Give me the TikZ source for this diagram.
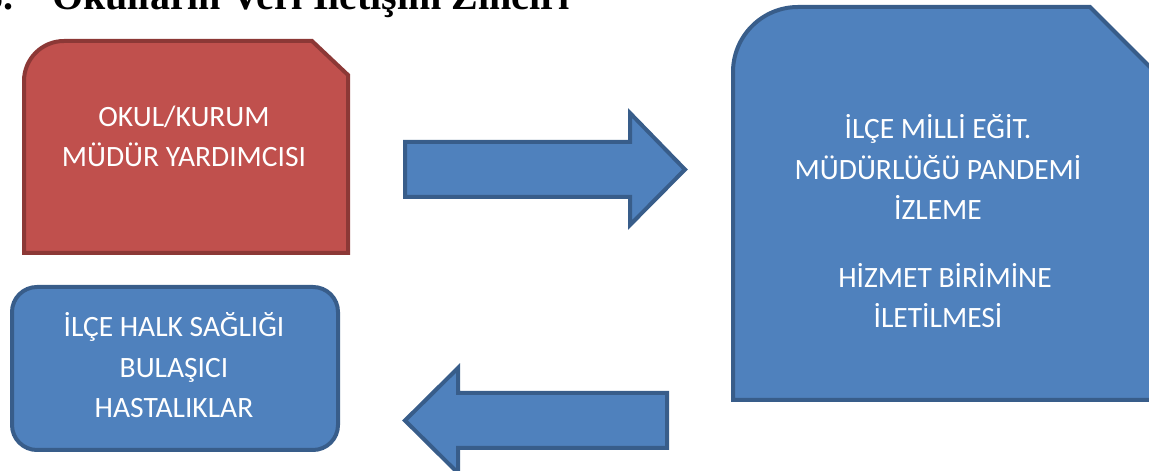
\documentclass[tikz,border=0pt]{standalone}
\usepackage{fontspec}
\setmainfont{Carlito}
\newfontfamily\titlefont{Liberation Serif}
\definecolor{bfill}{HTML}{4F81BD}
\definecolor{bline}{HTML}{385D8A}
\definecolor{rfill}{HTML}{C0504D}
\definecolor{rline}{HTML}{8C3836}
\begin{document}
\begin{tikzpicture}[x=1pt,y=1pt,
  bshape/.style={fill=bfill,draw=bline,line width=4pt,line join=miter},
  rshape/.style={fill=rfill,draw=rline,line width=4pt,line join=miter},
  boxtext/.style={text=white,align=center,inner sep=0pt,anchor=base,font=\fontsize{29.5}{40.5}\selectfont},
  titletext/.style={inner sep=0pt,font=\titlefont\bfseries\fontsize{40}{48}\selectfont}]
\useasboundingbox (0,0) rectangle (1149,471);
\clip (0,0) rectangle (1149,471);
% title (cut at the top edge)
\node[titletext,anchor=base east] (titlenum) at (14,461) {5.};
\node[titletext,anchor=base west] (title) at (52,461) {Okulların Veri İletişim Zinciri};
% red box
\path[rshape] (24,218) -- (24,390) arc[start angle=180,end angle=90,radius=40]
  -- (312,430) -- (348,396) -- (348,218) -- cycle;
\node[boxtext] (okul) at (184,304) {OKUL/KURUM\\MÜDÜR YARDIMCISI};
% big blue box
\path[bshape] (733,71) -- (733,399) arc[start angle=180,end angle=90,radius=65]
  -- (1090,464) -- (1165,389) -- (1165,71) -- cycle;
\node[boxtext] (ilce) at (938,143) {İLÇE MİLLİ EĞİT.\\MÜDÜRLÜĞÜ PANDEMİ\\İZLEME\\[27pt]\hspace*{14pt}HİZMET BİRİMİNE\\İLETİLMESİ};
% bottom-left box
\path[bshape,rounded corners=25pt] (12,21) rectangle (338,184);
\node[boxtext] (halk) at (174,53) {İLÇE HALK SAĞLIĞI\\BULAŞICI\\HASTALIKLAR};
% right block arrow
\path[bshape] (405,329) -- (630,329) -- (630,358) -- (685,301.5) -- (630,246)
  -- (630,274) -- (405,274) -- cycle;
% left block arrow
\path[bshape] (667,78) -- (458,78) -- (458,103) -- (405,50.5) -- (458,-2)
  -- (458,23) -- (667,23) -- cycle;
\end{tikzpicture}
\end{document}
